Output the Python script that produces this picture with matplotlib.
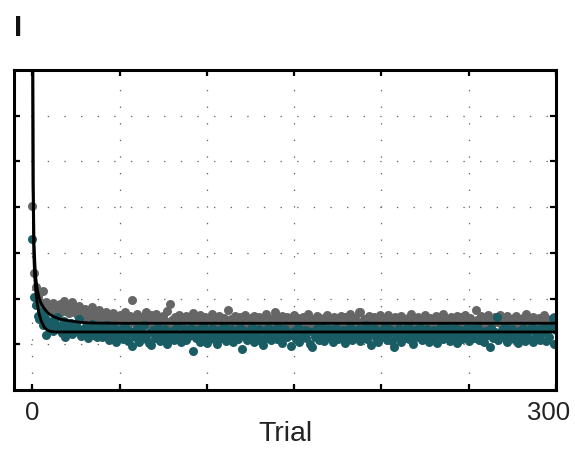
# -*- coding: utf-8 -*-
import matplotlib
matplotlib.use("Agg")
import matplotlib.pyplot as plt
from matplotlib.transforms import ScaledTranslation

#---------- data ----------
# gray series, one value per trial 0..300
gray_vals = [
    4.02, 2.57, 2.25, 2.05, 1.95, 1.88, 2.17, 1.80, 1.92, 1.76,
    1.85, 1.70, 1.90, 1.78, 1.83, 1.66, 1.88, 1.74, 1.95, 1.72,
    1.80, 1.68, 1.86, 1.93, 1.70, 1.77, 1.62, 1.84, 1.71, 1.66,
    1.78, 1.59, 1.73, 1.64, 1.81, 1.55, 1.69, 1.60, 1.75, 1.52,
    1.66, 1.58, 1.71, 1.49, 1.63, 1.55, 1.68, 1.46, 1.60, 1.53,
    1.64, 1.48, 1.57, 1.70, 1.51, 1.44, 1.62, 1.96, 1.55, 1.47,
    1.66, 1.52, 1.42, 1.59, 1.49, 1.70, 1.45, 1.56, 1.63, 1.40,
    1.54, 1.67, 1.47, 1.58, 1.43, 1.61, 1.50, 1.72, 1.46, 1.89,
    1.53, 1.41, 1.60, 1.48, 1.65, 1.44, 1.56, 1.38, 1.62, 1.50,
    1.46, 1.58, 1.69, 1.42, 1.55, 1.48, 1.63, 1.39, 1.52, 1.60,
    1.45, 1.57, 1.50, 1.66, 1.41, 1.54, 1.47, 1.61, 1.36, 1.52,
    1.58, 1.44, 1.74, 1.49, 1.56, 1.40, 1.62, 1.51, 1.46, 1.59,
    1.43, 1.55, 1.64, 1.48, 1.37, 1.57, 1.50, 1.61, 1.45, 1.53,
    1.60, 1.42, 1.56, 1.49, 1.66, 1.44, 1.52, 1.39, 1.58, 1.70,
    1.47, 1.55, 1.41, 1.62, 1.50, 1.46, 1.59, 1.38, 1.54, 1.48,
    1.63, 1.43, 1.57, 1.51, 1.45, 1.60, 1.36, 1.53, 1.67, 1.47,
    1.56, 1.42, 1.50, 1.61, 1.44, 1.58, 1.49, 1.40, 1.55, 1.64,
    1.46, 1.52, 1.39, 1.59, 1.48, 1.57, 1.43, 1.62, 1.51, 1.60,
    1.45, 1.54, 1.66, 1.41, 1.50, 1.58, 1.47, 1.70, 1.71, 1.44,
    1.55, 1.49, 1.37, 1.61, 1.52, 1.46, 1.59, 1.42, 1.56, 1.63,
    1.48, 1.40, 1.57, 1.51, 1.65, 1.44, 1.53, 1.47, 1.60, 1.38,
    1.55, 1.62, 1.46, 1.50, 1.43, 1.58, 1.52, 1.67, 1.41, 1.54,
    1.49, 1.60, 1.45, 1.56, 1.39, 1.63, 1.51, 1.47, 1.58, 1.42,
    1.53, 1.61, 1.48, 1.44, 1.57, 1.66, 1.50, 1.40, 1.55, 1.46,
    1.59, 1.52, 1.43, 1.62, 1.49, 1.60, 1.37, 1.56, 1.64, 1.45,
    1.51, 1.58, 1.47, 1.41, 1.76, 1.54, 1.49, 1.61, 1.44, 1.57,
    1.50, 1.63, 1.46, 1.40, 1.55, 1.59, 1.48, 1.52, 1.65, 1.43,
    1.56, 1.49, 1.61, 1.45, 1.53, 1.38, 1.58, 1.62, 1.47, 1.51,
    1.44, 1.57, 1.50, 1.66, 1.42, 1.55, 1.48, 1.60, 1.39, 1.53,
    1.58, 1.46, 1.52, 1.63, 1.41, 1.56, 1.49, 1.54, 1.45, 1.60,
    1.51,
]

# teal series, one value per trial 0..300
teal_vals = [
    3.31, 2.04, 1.85, 1.62, 1.55, 1.70, 1.42, 1.58, 1.20, 1.48,
    1.36, 1.52, 1.28, 1.45, 1.60, 1.33, 1.40, 1.25, 1.50, 1.16,
    1.38, 1.30, 1.46, 1.22, 1.35, 1.42, 1.27, 1.55, 1.19, 1.33,
    1.24, 1.40, 1.13, 1.31, 1.45, 1.21, 1.36, 1.17, 1.29, 1.38,
    1.15, 1.32, 1.25, 1.43, 1.10, 1.28, 1.20, 1.35, 1.06, 1.26,
    1.18, 1.33, 1.12, 1.40, 1.22, 1.08, 1.30, 0.97, 1.24, 1.15,
    1.36, 1.05, 1.27, 1.19, 1.42, 1.11, 1.25, 1.02, 0.98, 1.31,
    1.14, 1.21, 1.38, 1.07, 1.28, 1.17, 1.34, 1.01, 1.23, 1.12,
    1.30, 1.09, 1.26, 1.40, 1.15, 1.04, 1.22, 1.33, 1.10, 1.27,
    1.18, 1.36, 0.85, 1.24, 1.13, 1.31, 1.06, 1.20, 1.39, 1.16,
    1.03, 1.28, 1.19, 1.35, 1.11, 1.25, 1.00, 1.32, 1.14, 1.22,
    1.41, 1.08, 1.27, 1.17, 1.34, 1.05, 1.23, 1.29, 1.12, 1.37,
    0.90, 1.21, 1.30, 1.10, 1.26, 1.16, 1.38, 1.04, 1.24, 1.19,
    1.33, 1.07, 0.98, 1.28, 1.14, 1.36, 1.20, 1.09, 1.31, 1.23,
    1.12, 1.39, 1.18, 1.02, 1.27, 1.34, 1.15, 1.25, 0.96, 1.21,
    1.30, 1.11, 1.37, 1.06, 1.24, 1.19, 1.32, 1.13, 1.28, 1.01,
    0.94, 1.26, 1.17, 1.35, 1.10, 1.22, 1.40, 1.08, 1.29, 1.15,
    1.33, 1.20, 1.05, 1.27, 1.36, 1.12, 1.24, 1.18, 1.31, 1.03,
    1.25, 1.14, 1.38, 1.09, 1.21, 1.30, 1.16, 1.34, 1.07, 1.26,
    1.19, 1.42, 1.11, 1.28, 0.98, 1.23, 1.35, 1.13, 1.05, 1.30,
    1.17, 1.27, 1.39, 1.10, 1.22, 1.33, 1.08, 0.94, 1.25, 1.18,
    1.36, 1.04, 1.29, 1.14, 1.21, 1.40, 1.12, 1.26, 1.00, 1.31,
    1.16, 1.23, 1.37, 1.09, 1.28, 1.19, 1.34, 1.06, 1.24, 1.13,
    1.32, 1.20, 1.02, 1.27, 1.41, 1.11, 1.25, 1.17, 1.35, 1.08,
    1.29, 1.15, 1.38, 1.03, 1.22, 1.31, 1.12, 1.26, 1.18, 1.36,
    1.07, 1.24, 1.33, 1.14, 1.20, 1.39, 1.10, 1.28, 1.16, 1.05,
    1.30, 1.21, 0.95, 1.35, 1.13, 1.26, 1.59, 1.09, 1.23, 1.32,
    1.15, 1.40, 1.06, 1.27, 1.19, 1.34, 1.11, 1.25, 1.02, 1.30,
    1.17, 1.36, 1.08, 1.22, 1.29, 1.12, 1.38, 1.04, 1.26, 1.18,
    1.33, 1.10, 1.24, 1.41, 1.07, 1.28, 1.15, 1.35, 1.57, 1.00,
    1.32,
]

trials = list(range(len(gray_vals)))

gray_fit_x = [0, 0.25, 0.5, 1, 1.5, 2, 2.9, 4, 5, 6.7, 9, 12.4, 16, 20, 27.7, 35, 50, 300]
gray_fit_y = [12, 7.5, 4.5, 3.2, 2.75, 2.45, 2.19, 2.0, 1.9, 1.79, 1.68, 1.6, 1.55, 1.52, 1.48, 1.465, 1.46, 1.46]
teal_fit_x = [0, 0.2, 0.4, 0.8, 1.3, 2, 2.8, 3.8, 5, 6.7, 8.5, 10.5, 14, 300]
teal_fit_y = [12, 7.5, 4.5, 3.0, 2.5, 2.15, 1.9, 1.68, 1.52, 1.38, 1.31, 1.28, 1.27, 1.27]

x_ticks = [0, 50, 100, 150, 200, 250, 300]
x_ticklabels = ["0", "", "", "", "", "", "300"]
y_ticks = [1, 2, 3, 4, 5, 6]

GRAY = "#666666"
TEAL = "#1a5c64"
FONT = ["Liberation Sans", "DejaVu Sans"]

#---------- figure ----------
fig = plt.figure(figsize=(5.75, 4.5), dpi=100)
ax = fig.add_axes([14 / 575, 1 - 390 / 450, 542 / 575, 320 / 450])

ax.scatter(trials, gray_vals, s=42, color=GRAY, linewidths=0, zorder=2)
ax.scatter(trials, teal_vals, s=42, color=TEAL, linewidths=0, zorder=2.5)
ax.plot(gray_fit_x, gray_fit_y, color="black", lw=2.0, zorder=3)
ax.plot(teal_fit_x, teal_fit_y, color="black", lw=2.0, zorder=3)

ax.set_xlim(-10.5, 300)
ax.set_ylim(0, 7)
ax.set_xticks(x_ticks)
ax.set_xticklabels(x_ticklabels)
ax.set_yticks(y_ticks)
ax.set_yticklabels([])

# matlab style: ticks inside on every side, dotted grid
ax.tick_params(direction="in", length=4, width=1.6, top=True, right=True,
               pad=8, labelsize=18.5, labelcolor="#222222")
for lab in ax.get_xticklabels():
    lab.set_family(FONT)
# pull the "300" in a bit so it stays on the canvas
last = ax.get_xticklabels()[-1]
last.set_transform(last.get_transform() + ScaledTranslation(-0.07, 0, fig.dpi_scale_trans))

ax.grid(True, color="#666666", lw=0.9, linestyle=(0, (1.1, 12.2)))
ax.set_axisbelow(True)
for sp in ax.spines.values():
    sp.set_linewidth(2.2)

ax.set_xlabel("Trial", fontsize=20.5, family=FONT, labelpad=-3, color="#222222")

fig.text(14 / 575, 1 - 36 / 450, "I", fontsize=21, fontweight="bold",
         family=FONT, color="#111111")

fig.savefig("out.png", dpi=100)
